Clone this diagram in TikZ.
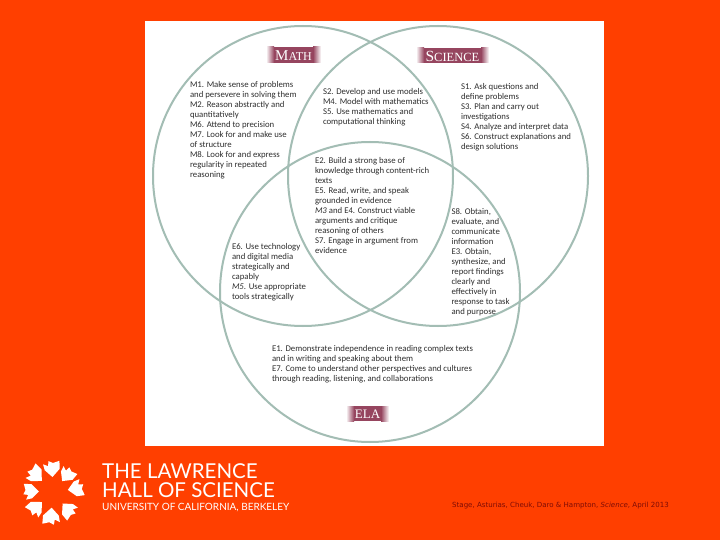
\documentclass[tikz,border=0pt]{standalone}
\usepackage{fontspec}
\setmainfont{Carlito}
\newfontfamily\serifrm{Liberation Serif}
\newfontfamily\logofont{Lato}
\newfontfamily\footfont{DejaVu Sans}
\definecolor{bgorange}{HTML}{FF3F00}
\definecolor{ringc}{HTML}{A3BDB4}
\definecolor{bannerc}{HTML}{96455F}
\definecolor{txt}{HTML}{2E2E2E}
\definecolor{footc}{HTML}{7E0C06}
\tikzset{
  x=1pt,y=-1pt,
  ring/.style={draw=ringc,line width=2pt},
  body/.style={anchor=north west,inner sep=0pt,outer sep=0pt,align=left,text=txt,
    font=\fontsize{8.75}{10}\selectfont},
  bannertext/.style={text=white,inner sep=0pt,font=\serifrm},
  wedge/.style={fill=white,draw=none},
}
\newcommand{\bannerbar}[4]{%
  \shade[left color=white,right color=bannerc] (#1,#3) rectangle (#1+8,#4);
  \fill[bannerc] (#1+8,#3) rectangle (#2-8,#4);
  \shade[left color=bannerc,right color=white] (#2-8,#3) rectangle (#2,#4);
}
\begin{document}
\begin{tikzpicture}
\useasboundingbox (0,0) rectangle (720,540);
\fill[bgorange] (0,0) rectangle (720,540);
\fill[white] (145,21) rectangle (604,446);
% circles
\node[ring,circle,minimum size=300pt,inner sep=0pt] (mathc) at (303,176) {};
\node[ring,circle,minimum size=300pt,inner sep=0pt] (scic) at (438,176) {};
\node[ring,circle,minimum size=300pt,inner sep=0pt] (elac) at (370,292) {};
% banners
\bannerbar{266}{321}{47}{63}
\bannerbar{416}{489}{48}{63}
\bannerbar{346}{389}{406}{421}
\node[bannertext] (mathl) at (293.5,56) {\fontsize{15}{15}\selectfont M\fontsize{12}{15}\selectfont ATH};
\node[bannertext] (scil) at (452.5,56) {\fontsize{15.5}{15}\selectfont S\fontsize{12.5}{15}\selectfont CIENCE};
\node[bannertext] (elal) at (367.5,414) {\fontsize{13}{13}\selectfont ELA};
% texts
\node[body] (m1) at (190,81) {M1. Make sense of problems\\and persevere in solving them\\M2. Reason abstractly and\\quantitatively\\M6. Attend to precision\\M7. Look for and make use\\of structure\\M8. Look for and express\\regularity in repeated\\reasoning};
\node[body] (s2) at (323,88.5) {S2. Develop and use models\\M4. Model with mathematics\\S5. Use mathematics and\\computational thinking};
\node[body] (s1) at (461,83.5) {S1. Ask questions and\\define problems\\S3. Plan and carry out\\investigations\\S4. Analyze and interpret data\\S6. Construct explanations and\\design solutions};
\node[body] (e2) at (315,157.5) {E2. Build a strong base of\\knowledge through content-rich\\texts\\E5. Read, write, and speak\\grounded in evidence\\\textit{M3} and E4. Construct viable\\arguments and critique\\reasoning of others\\S7. Engage in argument from\\evidence};
\node[body] (s8) at (451.5,208.5) {S8. Obtain,\\evaluate, and\\communicate\\information\\E3. Obtain,\\synthesize, and\\report findings\\clearly and\\effectively in\\response to task\\and purpose};
\node[body] (e6) at (232,243.5) {E6. Use technology\\and digital media\\strategically and\\capably\\\textit{M5}. Use appropriate\\tools strategically};
\node[body] (e1) at (272,345.5) {E1. Demonstrate independence in reading complex texts\\and in writing and speaking about them\\E7. Come to understand other perspectives and cultures\\through reading, listening, and collaborations};
% logo
\foreach \a/\s in {8/1,50/0.95,92/1,135/1.05,178/0.95,222/1,265/1.05,310/1}{
  \fill[wedge,shift={(53,492)},rotate=\a,scale=\s]
    (15,0) -- (22,-7.5) -- (28,-9) -- (26,-4) -- (31,-3.5) -- (29,1) -- (31,7.5) -- (23,7.5) -- cycle;
}
% logo text
\node[anchor=west,inner sep=0pt,text=white,font=\logofont\fontsize{20.5}{20}\selectfont] (lawrence) at (102,471.5) {THE LAWRENCE};
\node[anchor=west,inner sep=0pt,text=white,font=\logofont\fontsize{20.5}{20}\selectfont] (hall) at (102,490.5) {HALL OF SCIENCE};
\node[anchor=west,inner sep=0pt,text=white,font=\logofont\fontsize{10}{10}\selectfont] (ucb) at (102,508) {UNIVERSITY OF CALIFORNIA, BERKELEY};
\node[anchor=west,inner sep=0pt,text=footc,font=\footfont\fontsize{7.05}{8}\selectfont] (cite) at (452,505.5) {Stage, Asturias, Cheuk, Daro \& Hampton, \textit{Science}, April 2013};
\end{tikzpicture}
\end{document}
